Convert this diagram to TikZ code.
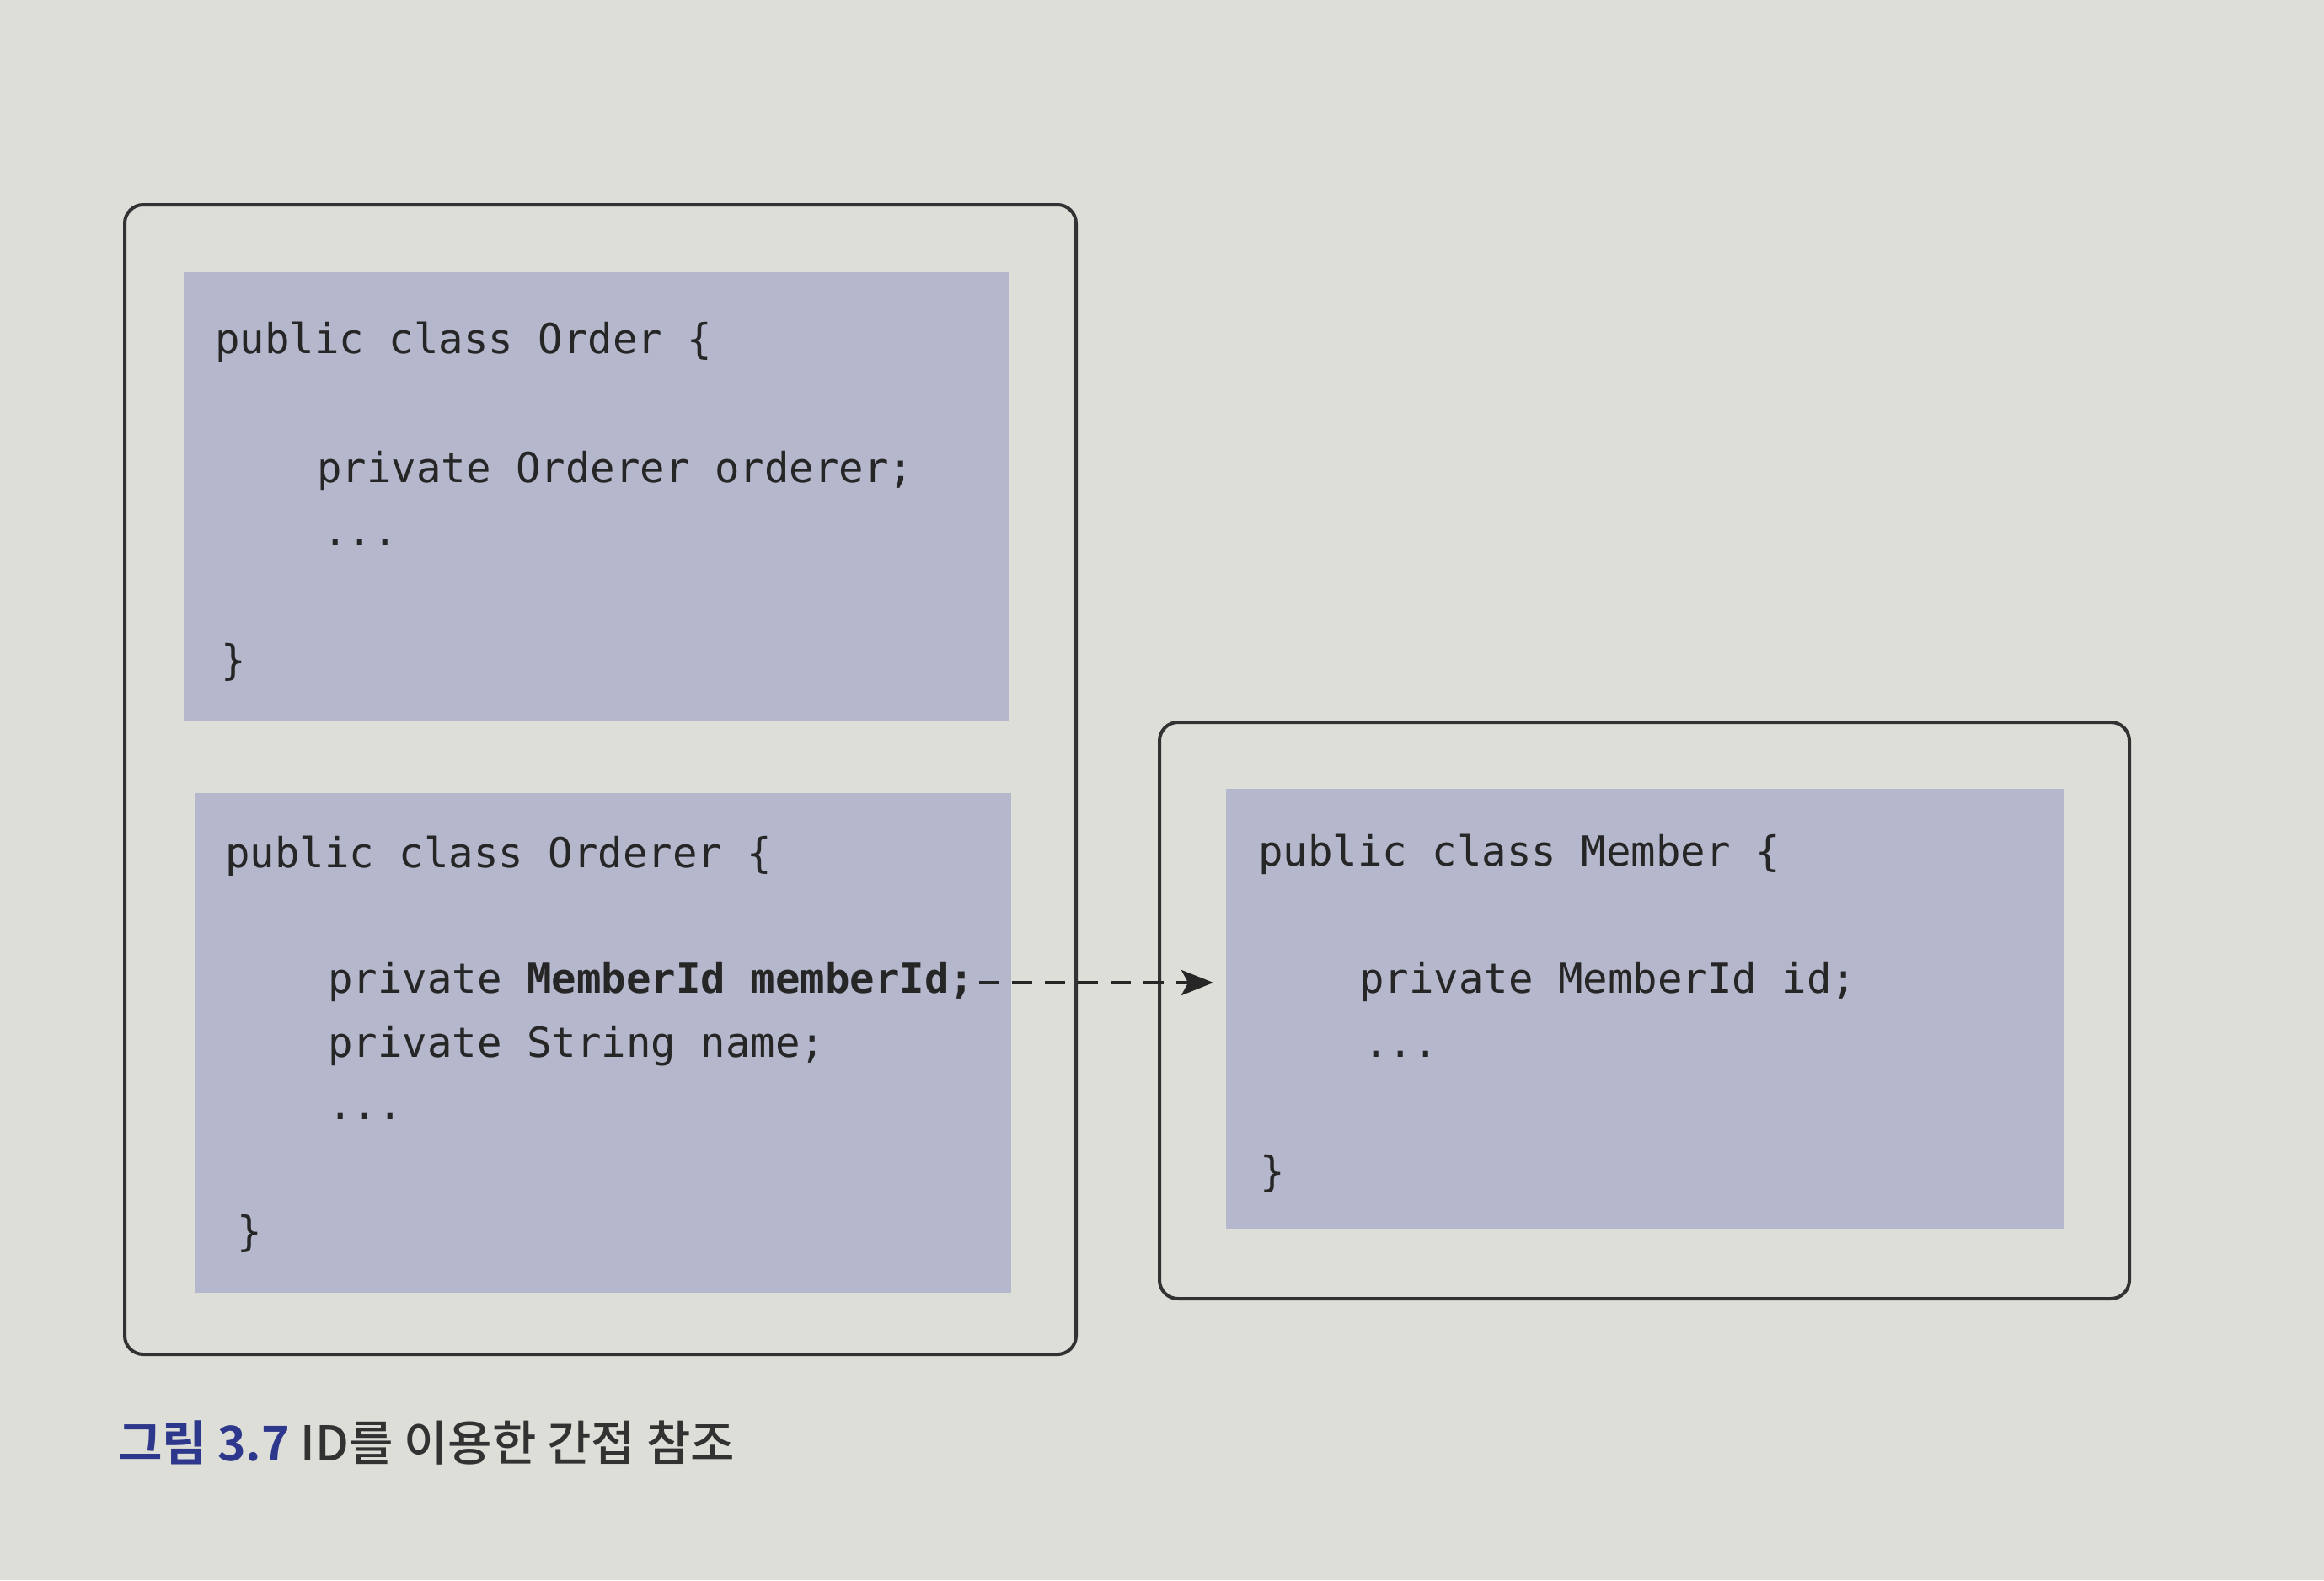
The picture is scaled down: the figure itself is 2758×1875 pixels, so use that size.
\documentclass[tikz,border=0pt]{standalone}
\usepackage{fontspec}
\setmonofont{DejaVu Sans Mono}
\newfontfamily\krfont{Noto Sans CJK KR Medium}
\newfontfamily\krbold{Noto Sans CJK KR Bold}
\usetikzlibrary{arrows.meta}
\definecolor{paper}{RGB}{222,222,217}
\definecolor{block}{RGB}{181,184,204}
\definecolor{frame}{RGB}{50,50,50}
\definecolor{capblue}{RGB}{45,55,140}
\definecolor{capgray}{RGB}{50,50,50}
\tikzset{
  outerbox/.style={draw=frame, line width=4pt, rounded corners=22pt},
  codeblock/.style={fill=block, draw=none},
  code/.style={anchor=base west, inner sep=0pt, font=\fontsize{49}{58}\selectfont\ttfamily, text=black!85},
  refarrow/.style={draw=black!85, line width=3.5pt, dash pattern=on 24pt off 15pt,
    -{Stealth[length=38pt,width=30pt,inset=8pt]}},
}
\begin{document}
\begin{tikzpicture}[x=1pt,y=-1pt]
\useasboundingbox (0,0) rectangle (2758,1875);
\fill[paper] (0,0) rectangle (2758,1875);

% outer frames
\draw[outerbox] (148,243) rectangle (1277,1607);
\draw[outerbox] (1376,857) rectangle (2527,1541);

% code blocks
\fill[codeblock] (218,323) rectangle (1198,855);
\fill[codeblock] (232,941) rectangle (1200,1534);
\fill[codeblock] (1455,936) rectangle (2449,1458);

% Order
\node[code] (o1) at (255,419) {public class Order \{};
\node[code] (o2) at (376,572) {private Orderer orderer;};
\node[code] (o3) at (383,647) {...};
\node[code] (o4) at (262,800) {\}};

% Orderer
\node[code] (r1) at (267,1029) {public class Orderer \{};
\node[code] (r2) at (389,1178) {private \textbf{MemberId memberId;}};
\node[code] (r3) at (389,1254) {private String name;};
\node[code] (r4) at (389,1328) {...};
\node[code] (r5) at (281,1478) {\}};

% Member
\node[code] (m1) at (1493,1027) {public class Member \{};
\node[code] (m2) at (1613,1178) {private MemberId id;};
\node[code] (m3) at (1618,1254) {...};
\node[code] (m4) at (1495,1407) {\}};

\coordinate (tip) at (1440,1166);
\draw[refarrow] (r2.east |- 0,1166) ++(6,0) -- (tip);

% caption
\node[anchor=base west, inner sep=0pt, font=\fontsize{57}{66}\selectfont\krfont] (cap) at (140,1733)
  {\textcolor{capblue}{\krbold 그림 3.7} \textcolor{capgray}{ID를 이용한 간접 참조}};
\end{tikzpicture}
\end{document}
